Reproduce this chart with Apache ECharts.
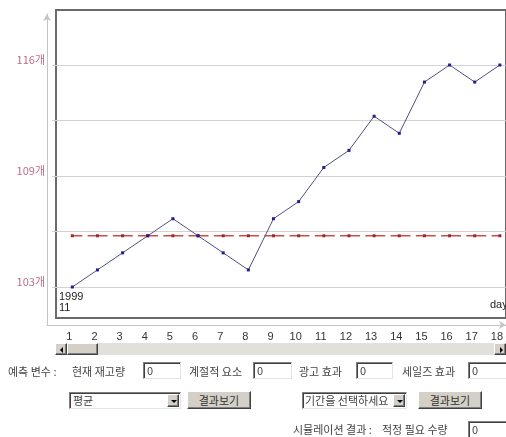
<!DOCTYPE html>
<html>
<head>
<meta charset="utf-8">
<script src="https://cdn.jsdelivr.net/npm/echarts@6/dist/echarts.min.js"></script>
<style>
  html, body { margin: 0; padding: 0; background: #fff; width: 506px; height: 437px; overflow: hidden; }
  body { position: relative; font-family: "Noto Sans CJK KR", "Liberation Sans", sans-serif; font-size: 11px; color: #444; }
  #chart { position: absolute; left: 0; top: 0; width: 506px; height: 437px; }
  .ui { position: absolute; z-index: 2; }
  .lbl { line-height: 16px; white-space: nowrap; }
  .field { height: 15px; background: #fff; border-top: 1px solid #808080; border-left: 1px solid #808080;
           border-right: 1px solid #e4e4e4; border-bottom: 1px solid #e4e4e4; box-shadow: inset 1px 1px 0 #404040;
           line-height: 15px; padding-left: 3px; box-sizing: content-box; overflow: hidden; white-space: nowrap; }
  .btn { background: #d4d0c8; border-top: 1px solid #fff; border-left: 1px solid #fff;
         border-right: 1px solid #404040; border-bottom: 1px solid #404040; box-shadow: inset -1px -1px 0 #808080;
         text-align: center; line-height: 16px; box-sizing: border-box; color: #333; }
  .drop { position: absolute; right: 1px; top: 1px; width: 12px; height: 13px; }
  .tri { position: absolute; left: 3px; top: 5px; width: 0; height: 0; border-left: 3px solid transparent;
         border-right: 3px solid transparent; border-top: 3px solid #000; }
  .sbar { background: #e2e0da; height: 12px; }
  .sbtn { position: absolute; top: 0; height: 12px; }
  .tl { position: absolute; left: 4px; top: 3px; width: 0; height: 0; border-top: 3px solid transparent;
        border-bottom: 3px solid transparent; border-right: 3px solid #000; }
  .tr { position: absolute; left: 5px; top: 3px; width: 0; height: 0; border-top: 3px solid transparent;
        border-bottom: 3px solid transparent; border-left: 3px solid #000; }
</style>
</head>
<body>
<div id="chart"></div>

<!-- horizontal scroll bar under the chart -->
<div class="ui sbar" style="left:55px; top:343px; width:451px;">
  <div class="btn sbtn" style="left:0; width:12px;"><div class="tl"></div></div>
  <div class="btn sbtn" style="left:12px; width:31px;"></div>
  <div class="btn sbtn" style="left:439px; width:12px;"><div class="tr"></div></div>
</div>

<!-- forecast inputs -->
<div class="ui lbl" style="left:8px; top:363px;">예측 변수 :</div>
<div class="ui lbl" style="left:72px; top:363px;">현재 재고량</div>
<div class="ui field" style="left:143px; top:362px; width:33px;">0</div>
<div class="ui lbl" style="left:189px; top:363px;">계절적 요소</div>
<div class="ui field" style="left:253px; top:362px; width:34px;">0</div>
<div class="ui lbl" style="left:299px; top:363px;">광고 효과</div>
<div class="ui field" style="left:356px; top:362px; width:32px;">0</div>
<div class="ui lbl" style="left:402px; top:363px;">세일즈 효과</div>
<div class="ui field" style="left:468px; top:362px; width:40px;">0</div>

<div class="ui field" style="left:69px; top:392px; width:107px;">평균<div class="btn drop"><div class="tri"></div></div></div>
<div class="ui btn" style="left:187px; top:391px; width:64px; height:18px;">결과보기</div>
<div class="ui field" style="left:302px; top:392px; width:101px; padding-left:2px;">기간을 선택하세요<div class="btn drop"><div class="tri"></div></div></div>
<div class="ui btn" style="left:418px; top:391px; width:64px; height:18px;">결과보기</div>

<div class="ui lbl" style="left:293px; top:421px;">시뮬레이션 결과 :</div>
<div class="ui lbl" style="left:382px; top:421px;">적정 필요 수량</div>
<div class="ui field" style="left:468px; top:421px; width:40px;">0</div>

<script>
// daily stock levels and the average reference level
const days = ['1', '2', '3', '4', '5', '6', '7', '8', '9', '10', '11', '12', '13', '14', '15', '16', '17', '18'];
const stock = [103, 104, 105, 106, 107, 106, 105, 104, 107, 108, 110, 111, 113, 112, 115, 116, 115, 116];
const average = [106, 106, 106, 106, 106, 106, 106, 106, 106, 106, 106, 106, 106, 106, 106, 106, 106, 106];
const yMin = 103;
const yMax = 116;
const yStep = 3.25;

const chart = echarts.init(document.getElementById('chart'), null, { renderer: 'canvas' });
const numFont = '"Liberation Sans", Arial, sans-serif';

chart.setOption({
  animation: false,
  grid: [
    // 0: outer axis lines with arrows
    { left: 47, top: 14, width: 459, height: 311, show: false },
    // 1: dark plot frame
    { left: 56, top: 10, width: 470, height: 308, show: true, borderColor: '#6a6a6a', borderWidth: 2, backgroundColor: 'transparent' },
    // 2: horizontal grid lines + value labels
    { left: 56, top: 65, width: 470, height: 222, show: false },
    // 3: data area
    { left: 72.3, top: 65, width: 429.2, height: 222, show: false }
  ],
  xAxis: [
    { gridIndex: 0, type: 'value', min: 0, max: 1,
      axisLine: { show: true, symbol: ['none', 'arrow'], symbolSize: [6, 7], lineStyle: { color: '#c4c4c4', width: 1 } },
      axisTick: { show: false }, axisLabel: { show: false }, splitLine: { show: false } },
    { gridIndex: 1, type: 'value', show: false },
    { gridIndex: 2, type: 'value', show: false },
    { gridIndex: 3, type: 'category', data: days, boundaryGap: false,
      axisLine: { show: false }, axisTick: { show: false }, splitLine: { show: false },
      axisLabel: { interval: 0, margin: 44, color: '#333', fontSize: 11, fontFamily: numFont, padding: [0, 6, 0, 0] } }
  ],
  yAxis: [
    { gridIndex: 0, type: 'value', min: 0, max: 1,
      axisLine: { show: true, symbol: ['none', 'arrow'], symbolSize: [6, 7], lineStyle: { color: '#c4c4c4', width: 1 } },
      axisTick: { show: false }, axisLabel: { show: false }, splitLine: { show: false } },
    { gridIndex: 1, type: 'value', show: false },
    { gridIndex: 2, type: 'value', min: yMin, max: yMax, interval: yStep, offset: 9,
      axisLine: { show: false },
      axisTick: { show: true, length: 4, lineStyle: { color: '#cfcfcf' } },
      splitLine: { show: true, lineStyle: { color: '#d2d2d2', width: 1 } },
      axisLabel: {
        margin: 2, color: '#b86f8c', fontSize: 11, fontFamily: '"Noto Sans CJK KR", sans-serif',
        verticalAlign: 'bottom', showMinLabel: true, showMaxLabel: true,
        formatter: (v, i) => (i % 2 === 0 ? Math.floor(v + 1e-9) + '개' : '')
      } },
    { gridIndex: 3, type: 'value', min: yMin, max: yMax, show: false }
  ],
  series: [
    {
      name: '평균', type: 'line', xAxisIndex: 3, yAxisIndex: 3, data: average, clip: false,
      symbol: 'rect', symbolSize: 3, showAllSymbol: true,
      itemStyle: { color: '#9c2a2a' },
      lineStyle: { color: '#cc4c4c', width: 1.5, type: [20, 5.25], dashOffset: 10 },
      z: 3
    },
    {
      name: '재고량', type: 'line', xAxisIndex: 3, yAxisIndex: 3, data: stock, clip: false,
      symbol: 'rect', symbolSize: 3, showAllSymbol: true,
      itemStyle: { color: '#1e1e8c' },
      lineStyle: { color: '#50507e', width: 1 },
      z: 4
    }
  ],
  graphic: [
    { type: 'text', left: 59, top: 291, z: 10,
      style: { text: '1999\n11', fill: '#222', font: '11px ' + numFont, lineHeight: 11 } },
    { type: 'text', left: 490, top: 299, z: 10,
      style: { text: 'day', fill: '#222', font: '11px ' + numFont } }
  ]
});
</script>
</body>
</html>
